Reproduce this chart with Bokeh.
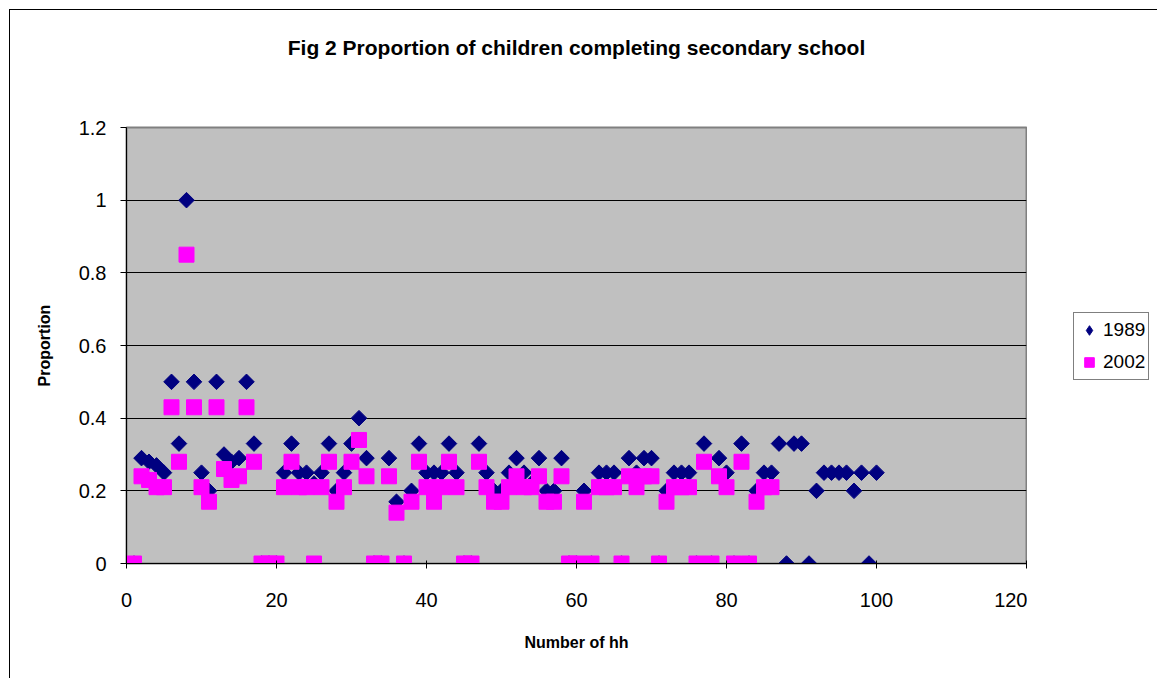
import math
from bokeh.plotting import figure
from bokeh.layouts import row
from bokeh.models import (Range1d, FixedTicker, CustomJSTickFormatter, Legend, LegendItem,
                          ColumnDataSource, Title)
from bokeh.embed import file_html
from bokeh.resources import INLINE

hh_1989 = list(range(1, 101))
prop_1989 = [0, 0.29, 0.28, 0.27, 0.25, 0.5, 0.33, 1.0, 0.5, 0.25,
             0.2, 0.5, 0.3, 0.28, 0.29, 0.5, 0.33, 0, 0, 0,
             0.25, 0.33, 0.25, 0.25, 0.22, 0.25, 0.33, 0.2, 0.25, 0.33,
             0.4, 0.29, 0, 0, 0.29, 0.17, 0, 0.2, 0.33, 0.25,
             0.25, 0.25, 0.33, 0.25, 0, 0, 0.33, 0.25, 0.2, 0.2,
             0.25, 0.29, 0.25, 0.22, 0.29, 0.2, 0.2, 0.29, 0, 0,
             0.2, 0, 0.25, 0.25, 0.25, 0, 0.29, 0.25, 0.29, 0.29,
             0, 0.2, 0.25, 0.25, 0.25, 0, 0.33, 0, 0.29, 0.25,
             0, 0.33, 0, 0.2, 0.25, 0.25, 0.33, 0, 0.33, 0.33,
             0, 0.2, 0.25, 0.25, 0.25, 0.25, 0.2, 0.25, 0, 0.25]

hh_2002 = list(range(1, 87))
prop_2002 = [0, 0.24, 0.23, 0.21, 0.21, 0.43, 0.28, 0.85, 0.43, 0.21,
             0.17, 0.43, 0.26, 0.23, 0.24, 0.43, 0.28, 0, 0, 0,
             0.21, 0.28, 0.21, 0.21, 0, 0.21, 0.28, 0.17, 0.21, 0.28,
             0.34, 0.24, 0, 0, 0.24, 0.14, 0, 0.17, 0.28, 0.21,
             0.17, 0.21, 0.28, 0.21, 0, 0, 0.28, 0.21, 0.17, 0.17,
             0.21, 0.24, 0.21, 0.21, 0.24, 0.17, 0.17, 0.24, 0, 0,
             0.17, 0, 0.21, 0.21, 0.21, 0, 0.24, 0.21, 0.24, 0.24,
             0, 0.17, 0.21, 0.21, 0.21, 0, 0.28, 0, 0.24, 0.21,
             0, 0.28, 0, 0.17, 0.21, 0.21]

series_names = ["1989", "2002"]
x_ticks = [0, 20, 40, 60, 80, 100, 120]
y_ticks = [0, 0.2, 0.4, 0.6, 0.8, 1.0, 1.2]

FONT = "Liberation Sans"
NAVY = "#000080"
MAGENTA = "#FF00FF"

p = figure(frame_width=900, frame_height=436, output_backend="svg", toolbar_location=None,
           x_range=Range1d(0, 120), y_range=Range1d(0, 1.2),
           min_border_left=116, min_border_right=1, min_border_top=117, min_border_bottom=115,
           title="Fig 2 Proportion of children completing secondary school")
p.border_fill_color = "white"
p.background_fill_color = "#C0C0C0"
p.outline_line_color = "#808080"
p.outline_line_width = 2

p.title.align = "center"
p.title.text_font = FONT
p.title.text_font_size = "21px"
p.title.text_font_style = "bold"
p.title.text_color = "black"
p.title.offset = 16
p.add_layout(Title(text=" ", text_font_size="46px", text_font=FONT), "above")

s89 = ColumnDataSource(dict(x=hh_1989, y=prop_1989))
s02 = ColumnDataSource(dict(x=hh_2002, y=prop_2002))
p.scatter("x", "y", source=s89, marker="square", size=11, angle=math.pi / 4,
          fill_color=NAVY, line_color=NAVY)
p.scatter("x", "y", source=s02, marker="square", size=15, fill_color=MAGENTA,
          line_color=MAGENTA)

p.xgrid.visible = False
p.ygrid.grid_line_color = "black"
p.ygrid.grid_line_width = 1
p.xaxis.ticker = FixedTicker(ticks=x_ticks)
p.yaxis.ticker = FixedTicker(ticks=y_ticks)
p.yaxis.formatter = CustomJSTickFormatter(code="return String(Math.round(tick*10)/10);")
for ax in (p.xaxis[0], p.yaxis[0]):
    ax.axis_line_color = "black"
    ax.major_tick_line_color = "black"
    ax.minor_tick_line_color = None
    ax.major_label_text_font = FONT
    ax.major_label_text_font_size = "20px"
    ax.major_label_text_color = "black"
    ax.axis_label_text_font = FONT
    ax.axis_label_text_font_size = "16px"
    ax.axis_label_text_font_style = "bold"
    ax.axis_label_text_color = "black"
p.xaxis.major_tick_in = 3
p.xaxis.major_tick_out = 5
p.yaxis.major_tick_in = 0
p.yaxis.major_tick_out = 6
p.xaxis.major_label_standoff = 24
p.yaxis.major_label_standoff = 14
p.xaxis.axis_label = "Number of hh"
p.yaxis.axis_label = "Proportion"
p.xaxis.axis_label_standoff = 24
p.yaxis.axis_label_standoff = 23

# legend panel to the right of the plot (proxy glyphs carry only the styling)
q = figure(width=130, height=668, output_backend="svg", toolbar_location=None,
           x_range=Range1d(0, 130), y_range=Range1d(0, 668),
           min_border=0, x_axis_type=None, y_axis_type=None)
q.outline_line_color = None
q.background_fill_color = "white"
q.border_fill_color = "white"
q.grid.visible = False
nan = float("nan")
lg1 = q.scatter(x=[nan], y=[nan], marker="diamond", size=15,
                fill_color=NAVY, line_color=NAVY)
lg2 = q.scatter(x=[nan], y=[nan], marker="square", size=15, fill_color=MAGENTA,
                line_color=MAGENTA)

legend = Legend(items=[LegendItem(label=series_names[0], renderers=[lg1]),
                       LegendItem(label=series_names[1], renderers=[lg2])],
                location=(46, 183), orientation="vertical")
legend.label_text_font = FONT
legend.label_text_font_size = "19px"
legend.label_text_color = "black"
legend.border_line_color = "black"
legend.border_line_width = 1
legend.background_fill_color = "white"
legend.background_fill_alpha = 1
legend.glyph_width = 24
legend.glyph_height = 28
legend.label_standoff = 2
legend.spacing = 4
legend.padding = 3
legend.margin = 0
q.add_layout(legend, "center")

layout = row(p, q, spacing=0)
layout.styles = {"border-left": "1px solid black", "border-top": "1px solid black",
                 "margin-left": "9px", "margin-top": "9px"}

open("out.html", "w").write(file_html(layout, INLINE))
